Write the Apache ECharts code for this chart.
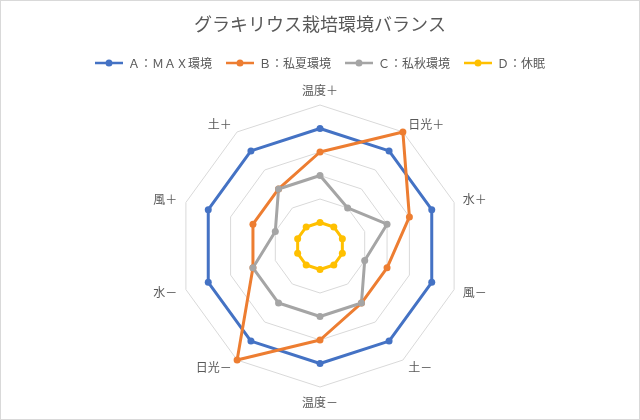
<!DOCTYPE html>
<html><head><meta charset="utf-8">
<script src="https://cdn.jsdelivr.net/npm/echarts@6/dist/echarts.min.js"></script>
<style>html,body{margin:0;padding:0;background:#fff}#c{width:638px;height:418px;border:1px solid #d9d9d9}</style>
</head><body><div id="c"></div>
<script>
const indicators = ['温度＋','日光＋','水＋','風－','土－','温度－','日光－','水－','風＋','土＋'];
const seriesNames = ['Ａ：ＭＡＸ環境','Ｂ：私夏環境','Ｃ：私秋環境','Ｄ：休眠'];
const seriesA = [5,5,5,5,5,5,5,5,5,5];
const seriesB = [4,6,4,3,3,4,6,3,3,3];
const seriesC = [3,2,3,2,3,3,3,3,2,3];
const seriesD = [1,1,1,1,1,1,1,1,1,1];
const colors = ['#4472c4','#ed7d31','#a5a5a5','#ffc000'];
const values = [seriesA, seriesB, seriesC, seriesD];
// ECharts radar runs counter-clockwise; reorder so the chart reads clockwise
const order = [0].concat(indicators.map((_,i)=>i).slice(1).reverse());
const reorder = arr => order.map(i=>arr[i]);
const font = '"Noto Sans CJK JP", "Noto Sans", sans-serif';
const legendIcon = 'path://M0,2.2L28,2.2L28,4.8L0,4.8Z M17.5,3.5A3.5,3.5 0 1,1 10.5,3.5A3.5,3.5 0 1,1 17.5,3.5Z';
const chart = echarts.init(document.getElementById('c'));
chart.setOption({
  animation:false,
  title:{text:'グラキリウス栽培環境バランス',left:'center',top:9,textStyle:{fontFamily:font,fontSize:18,fontWeight:'normal',color:'#595959'}},
  legend:{top:51,left:'center',icon:legendIcon,itemWidth:28,itemHeight:7,itemGap:14,textStyle:{fontFamily:font,fontSize:12,color:'#595959'},data:seriesNames},
  radar:{
    center:[319,245],radius:141,shape:'polygon',splitNumber:6,startAngle:90,
    indicator:reorder(indicators).map(n=>({name:n,max:6,min:0})),
    axisName:{color:'#595959',fontFamily:font,fontSize:12},
    nameGap:9,
    axisLine:{show:false},
    splitLine:{lineStyle:{color:'#d9d9d9',width:1}},
    splitArea:{show:false}
  },
  series:[{
    type:'radar',
    data:values.map((v,i)=>({
      name:seriesNames[i],value:reorder(v),symbol:'circle',symbolSize:7,
      lineStyle:{color:colors[i],width:3},itemStyle:{color:colors[i]}
    }))
  }]
});
</script></body></html>
